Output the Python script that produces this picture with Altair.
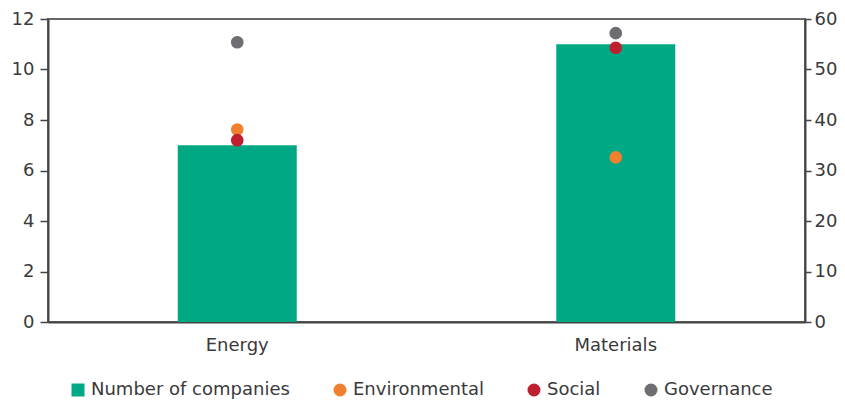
import altair as alt
import pandas as pd

sectors = ["Energy", "Materials"]
num_companies = [7, 11]
environmental = [38.1, 32.6]
social = [36.0, 54.3]
governance = [55.4, 57.2]

series_names = ["Number of companies", "Environmental", "Social", "Governance"]
series_colors = ["#00A884", "#F08030", "#C01F2F", "#6D6E72"]

bars_df = pd.DataFrame({"sector": sectors, "count": num_companies})
rows = []
for i, s in enumerate(sectors):
    rows.append({"sector": s, "series": "Environmental", "score": environmental[i]})
    rows.append({"sector": s, "series": "Social", "score": social[i]})
    rows.append({"sector": s, "series": "Governance", "score": governance[i]})
pts_df = pd.DataFrame(rows)

FONT = "DejaVu Sans"
FS = 18
TXT = "#3a3a3a"
LINE = "#444444"

x_enc = alt.X("sector:N", sort=sectors, title=None,
              scale=alt.Scale(paddingInner=0, paddingOuter=0),
              axis=alt.Axis(labelAngle=0, ticks=False, domain=True, domainColor=LINE,
                            domainWidth=2, labelPadding=14,
                            labelFontSize=FS, labelColor=TXT, labelFont=FONT))

bars = alt.Chart(bars_df).mark_bar(color="#00A884", size=119).encode(
    x=x_enc,
    y=alt.Y("count:Q", title=None, scale=alt.Scale(domain=[0, 12]),
            axis=alt.Axis(orient="left", values=[0, 2, 4, 6, 8, 10, 12], grid=False,
                          tickSize=8, tickColor=LINE, tickWidth=1.5, domainColor=LINE, domainWidth=2,
                          labelPadding=6, labelFontSize=FS, labelColor=TXT, labelFont=FONT)),
)

leg = alt.Legend(title=None, orient="none", direction="horizontal",
                 legendX=21, legendY=362, labelFontSize=FS, labelLimit=400,
                 labelColor=TXT, labelFont=FONT, symbolSize=169,
                 columnPadding=41, labelOffset=4, symbolStrokeWidth=0, padding=0)

points = alt.Chart(pts_df).mark_point(filled=True, opacity=1, size=160).encode(
    x=alt.X("sector:N", sort=sectors),
    y=alt.Y("score:Q", title=None, scale=alt.Scale(domain=[0, 60]),
            axis=alt.Axis(orient="right", values=[0, 10, 20, 30, 40, 50, 60], grid=False,
                          tickSize=6, tickColor=LINE, tickWidth=1.5, domainColor=LINE, domainWidth=2,
                          labelPadding=3, labelFontSize=FS, labelColor=TXT, labelFont=FONT)),
    color=alt.Color("series:N", scale=alt.Scale(domain=series_names, range=series_colors),
                    legend=leg),
    shape=alt.Shape("series:N", scale=alt.Scale(domain=series_names,
                                                range=["square", "circle", "circle", "circle"]),
                    legend=leg),
)

chart = alt.layer(bars, points).resolve_scale(y="independent").properties(
    width=757, height=303,
    background="white",
    autosize=alt.AutoSizeParams(type="none"),
    padding={"left": 40, "top": 11, "right": 32, "bottom": 78},
).configure_view(stroke="#666666", strokeWidth=2)

chart.save("out.html", embed_options={"renderer": "svg", "actions": False})
